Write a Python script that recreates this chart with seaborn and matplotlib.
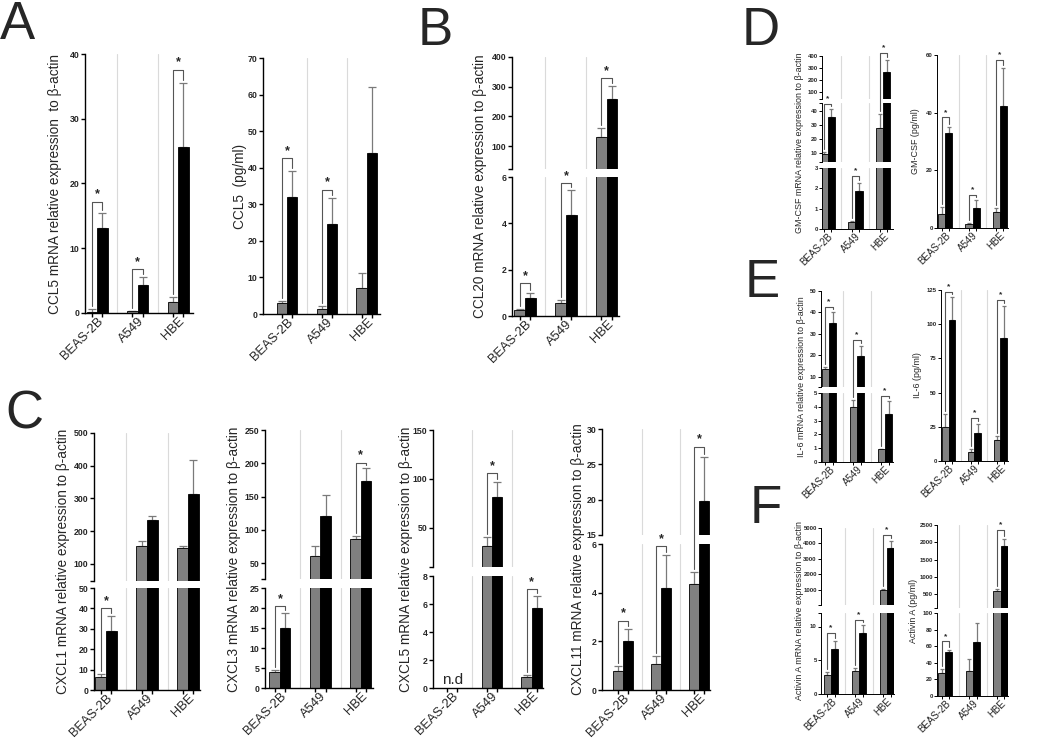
import numpy as np
import pandas as pd
import matplotlib
matplotlib.use("Agg")
import matplotlib.pyplot as plt
import seaborn as sns
from matplotlib.lines import Line2D
from matplotlib.ticker import FixedLocator

# ---------------- data ----------------
cells = ["BEAS-2B", "A549", "HBE"]
groups = ["control", "treated"]

# Panel A – CCL5 mRNA
a1_ctrl = [0.2, 0.25, 1.7]
a1_ctrl_err = [0.4, 0.1, 0.7]
a1_trt = [13.2, 4.4, 25.6]
a1_trt_err = [2.2, 1.1, 9.9]
a1_sig = [17.2, 6.8, 37.6]

# Panel A – CCL5 protein (pg/ml)
a2_ctrl = [3.0, 1.3, 7.0]
a2_ctrl_err = [0.5, 0.9, 4.3]
a2_trt = [32.0, 24.7, 44.0]
a2_trt_err = [7.2, 7.1, 18.0]
a2_sig = [42.7, 34.0, None]

# Panel B – CCL20 mRNA
b_ctrl = [0.25, 0.55, 132.0]
b_ctrl_err = [0.07, 0.15, 28.0]
b_trt = [0.78, 4.35, 258.0]
b_trt_err = [0.22, 1.1, 45.0]
b_sig = [1.42, 5.74, 329.0]

# Panel C – CXCL1 / CXCL3 / CXCL5 / CXCL11 mRNA
c1_ctrl = [6.5, 155.0, 150.0]
c1_ctrl_err = [1.5, 15.0, 5.0]
c1_trt = [29.0, 235.0, 315.0]
c1_trt_err = [7.5, 10.0, 103.0]
c1_sig = [40.0, None, None]

c2_ctrl = [3.9, 60.0, 86.0]
c2_ctrl_err = [0.6, 16.0, 5.0]
c2_trt = [15.1, 121.0, 173.0]
c2_trt_err = [3.6, 31.0, 20.0]
c2_sig = [20.4, None, 201.0]

c3_ctrl = [np.nan, 31.0, 0.8]
c3_ctrl_err = [np.nan, 10.0, 0.1]
c3_trt = [np.nan, 82.0, 5.75]
c3_trt_err = [np.nan, 15.0, 0.85]
c3_sig = [None, 106.0, 7.05]

c4_ctrl = [0.78, 1.05, 4.35]
c4_ctrl_err = [0.22, 0.33, 0.5]
c4_trt = [2.0, 4.2, 19.8]
c4_trt_err = [0.5, 1.35, 6.3]
c4_sig = [2.85, 5.92, 27.5]

# Panel D – GM-CSF
d1_ctrl = [9.0, 0.33, 27.5]
d1_ctrl_err = [1.5, 0.05, 10.5]
d1_trt = [35.5, 1.85, 270.0]
d1_trt_err = [6.0, 0.4, 100.0]
d1_sig = [45.0, 2.6, 423.0]

d2_ctrl = [4.7, 1.3, 5.6]
d2_ctrl_err = [2.6, 0.5, 1.2]
d2_trt = [33.0, 6.8, 42.3]
d2_trt_err = [2.0, 3.0, 13.2]
d2_sig = [38.4, 11.5, 58.3]

# Panel E – IL-6
e1_ctrl = [13.5, 3.95, 0.92]
e1_ctrl_err = [1.0, 0.55, 0.05]
e1_trt = [35.3, 19.8, 3.45]
e1_trt_err = [4.7, 4.5, 1.0]
e1_sig = [42.7, 27.3, 4.8]

e2_ctrl = [25.0, 6.3, 15.5]
e2_ctrl_err = [9.0, 2.2, 2.8]
e2_trt = [103.0, 20.5, 90.0]
e2_trt_err = [17.0, 6.5, 23.0]
e2_sig = [123.8, 31.5, 118.0]

# Panel F – Activin A
f1_ctrl = [2.8, 3.4, 1020.0]
f1_ctrl_err = [0.4, 0.4, 60.0]
f1_trt = [6.6, 9.1, 3700.0]
f1_trt_err = [1.2, 1.1, 450.0]
f1_sig = [9.1, 11.0, 4570.0]

f2_ctrl = [28.0, 30.0, 580.0]
f2_ctrl_err = [5.0, 15.0, 80.0]
f2_trt = [53.0, 65.0, 1880.0]
f2_trt_err = [3.0, 23.0, 210.0]
f2_sig = [65.7, None, 2356.0]

# ---------------- style ----------------
sns.set_theme(style="ticks")
plt.rcParams["font.family"] = ["Liberation Sans", "DejaVu Sans"]

W, H = 1050, 744
fig = plt.figure(figsize=(W / 100, H / 100), dpi=100)

GRAY = "#808080"
BLACK = "#000000"
BAR_W = 0.52
HALF = BAR_W / 4


def px_axes(x0, x1, ytop, ybot):
    return fig.add_axes([x0 / W, 1 - ybot / H, (x1 - x0) / W, (ybot - ytop) / H])


def to_fig(axes_bottom_first, x, y):
    chosen = axes_bottom_first[-1]
    for ax in axes_bottom_first:
        if y <= ax.get_ylim()[1]:
            chosen = ax
            break
    d = chosen.transData.transform((x, y))
    return fig.transFigure.inverted().transform(d)


def fmt(t):
    return str(int(t)) if float(t).is_integer() else str(t)


def visible(vals, lo, is_bottom):
    """Hide values that lie wholly below a raised (broken) segment."""
    vals = np.asarray(vals, dtype=float)
    if is_bottom:
        return vals
    return np.where(vals > lo, vals, np.nan)


def draw_panel(x0, x1, xlim, segs, label, label_x, ctrl, ctrl_err, trt, trt_err,
               sig, small=False, nd=False):
    tick_fs = 4.3 if small else 6.3
    xlab_fs = 7.0 if small else 9.3
    lab_fs = 6.4 if small else 9.8
    lw_sp = 0.7 if small else 1.0
    cap = 1.5 if small else 3
    tlen = 2 if small else 3
    axes = []
    n = len(segs)
    ctrl = np.asarray(ctrl, float)
    trt = np.asarray(trt, float)
    ctrl_err = np.asarray(ctrl_err, float)
    trt_err = np.asarray(trt_err, float)
    ctrl_top = ctrl + ctrl_err
    trt_top = trt + trt_err
    for i, (ytop, ybot, lo, hi, ticks) in enumerate(segs):
        last = (i == n - 1)
        ax = px_axes(x0, x1, ytop, ybot)
        c_vis = visible(ctrl, lo, last)
        t_vis = visible(trt, lo, last)
        df = pd.DataFrame({
            "cell": cells * 2,
            "group": [groups[0]] * 3 + [groups[1]] * 3,
            "value": list(c_vis) + list(t_vis),
        })
        sns.barplot(data=df, x="cell", y="value", hue="group", order=cells,
                    hue_order=groups, palette=[GRAY, BLACK], width=BAR_W,
                    errorbar=None, edgecolor="black", linewidth=0.6,
                    saturation=1, legend=False, ax=ax, zorder=2)
        xs_c = np.arange(3) - HALF
        xs_t = np.arange(3) + HALF
        ax.errorbar(xs_c, c_vis, yerr=[np.zeros(3), ctrl_err], fmt="none",
                    ecolor="#7a7a7a", elinewidth=0.9, capsize=cap, capthick=0.9, zorder=1)
        ax.errorbar(xs_t, t_vis, yerr=[np.zeros(3), trt_err], fmt="none",
                    ecolor="#7a7a7a", elinewidth=0.9, capsize=cap, capthick=0.9, zorder=1)
        for xv in (0.5, 1.5):
            ax.axvline(xv, color="#dadada", lw=0.8, zorder=0)
        ax.set_xlim(*xlim)
        ax.set_ylim(lo, hi)
        ax.set_xlabel("")
        ax.set_ylabel("")
        ax.set_facecolor("none")
        sns.despine(ax=ax, bottom=not last)
        for s in ("left", "bottom"):
            ax.spines[s].set_linewidth(lw_sp)
            ax.spines[s].set_color("black")
        ax.set_yticks(ticks)
        ax.set_yticklabels([fmt(t) for t in ticks], fontsize=tick_fs, fontweight="bold")
        extra = [v for v in (lo, hi) if v not in ticks]
        ax.yaxis.set_minor_locator(FixedLocator(extra))
        ax.tick_params(axis="y", which="both", length=tlen, width=lw_sp, pad=1,
                       color="black")
        if last:
            ax.set_xticks([0, 1, 2])
            ax.set_xticklabels(cells, rotation=45, ha="right", va="top",
                               rotation_mode="anchor", fontsize=xlab_fs)
            ax.tick_params(axis="x", which="major", length=0, pad=1.5)
            ax.xaxis.set_minor_locator(FixedLocator(list(xs_c) + list(xs_t)))
            ax.tick_params(axis="x", which="minor", length=tlen, width=lw_sp,
                           color="black")
            if nd:
                ax.text(0, lo + (hi - lo) * 0.01, "n.d", ha="center", va="bottom",
                        fontsize=11)
        else:
            ax.set_xticks([])
            ax.tick_params(axis="x", bottom=False)
        axes.append(ax)
    axes_bf = axes[::-1]
    ymid = (segs[0][0] + segs[-1][1]) / 2
    fig.text(label_x / W, 1 - ymid / H, label, rotation=90, ha="center",
             va="center", fontsize=lab_fs)
    gap = 3 / H
    for gi, h in enumerate(sig):
        if h is None:
            continue
        xl, xr = gi - HALF, gi + HALF
        pl = to_fig(axes_bf, xl, h)
        pr = to_fig(axes_bf, xr, h)
        lb = to_fig(axes_bf, xl, ctrl_top[gi])[1] + gap
        rb = to_fig(axes_bf, xr, trt_top[gi])[1] + gap
        rb = min(rb, pr[1] - 1.5 / H)
        line = Line2D([pl[0], pl[0], pr[0], pr[0]], [lb, pl[1], pr[1], rb],
                      transform=fig.transFigure, color="#555555", lw=0.8)
        fig.add_artist(line)
        fig.text((pl[0] + pr[0]) / 2, pl[1] + (5 if small else 7) / H, "*",
                 ha="center", va="center", fontsize=6 if small else 9,
                 fontweight="bold")
    return axes


# ---------------- panels ----------------
draw_panel(85, 193, (-0.30, 2.37), [(54, 313, 0, 40, [0, 10, 20, 30, 40])],
           "CCL5 mRNA relative expression  to \u03b2-actin", 55,
           a1_ctrl, a1_ctrl_err, a1_trt, a1_trt_err, a1_sig)
draw_panel(263, 380, (-0.60, 2.33), [(58, 314, 0, 70, list(range(0, 71, 10)))],
           "CCL5  (pg/ml)", 240,
           a2_ctrl, a2_ctrl_err, a2_trt, a2_trt_err, a2_sig)
draw_panel(512, 619, (-0.32, 2.30),
           [(57, 169, 22.5, 400, [100, 200, 300, 400]), (177, 316, 0, 6, [0, 2, 4, 6])],
           "CCL20 mRNA relative expression to \u03b2-actin", 480,
           b_ctrl, b_ctrl_err, b_trt, b_trt_err, b_sig)
draw_panel(94, 200, (-0.29, 2.29),
           [(433, 581, 48, 500, [100, 200, 300, 400, 500]),
            (588, 690, 0, 50, [0, 10, 20, 30, 40, 50])],
           "CXCL1 mRNA relative expression to \u03b2-actin", 63,
           c1_ctrl, c1_ctrl_err, c1_trt, c1_trt_err, c1_sig)
draw_panel(265, 373, (-0.37, 2.30),
           [(430, 579, 26, 250, [50, 100, 150, 200, 250]),
            (588, 688, 0, 25, [0, 5, 10, 15, 20, 25])],
           "CXCL3 mRNA relative expression to \u03b2-actin", 234,
           c2_ctrl, c2_ctrl_err, c2_trt, c2_trt_err, c2_sig)
draw_panel(433, 543, (-0.48, 2.28),
           [(430, 567, 10, 150, [50, 100, 150]), (576, 688, 0, 8, [0, 2, 4, 6, 8])],
           "CXCL5 mRNA relative expression to \u03b2-actin", 406,
           c3_ctrl, c3_ctrl_err, c3_trt, c3_trt_err, c3_sig, nd=True)
draw_panel(602, 710, (-0.55, 2.29),
           [(429, 535, 15, 30, [15, 20, 25, 30]), (544, 690, 0, 6, [0, 2, 4, 6])],
           "CXCL11 mRNA relative expression to \u03b2-actin", 578,
           c4_ctrl, c4_ctrl_err, c4_trt, c4_trt_err, c4_sig)
draw_panel(822, 893, (-0.20, 2.35),
           [(56, 99, 45, 400, [100, 200, 300, 400]),
            (103, 162, 3.5, 45.5, [10, 20, 30, 40]),
            (168, 229, 0, 3, [0, 1, 2, 3])],
           "GM-CSF mRNA relative expression to \u03b2-actin", 799,
           d1_ctrl, d1_ctrl_err, d1_trt, d1_trt_err, d1_sig, small=True)
draw_panel(937, 1008, (-0.30, 2.30), [(55, 228, 0, 60, [0, 20, 40, 60])],
           "GM-CSF (pg/ml)", 915,
           d2_ctrl, d2_ctrl_err, d2_trt, d2_trt_err, d2_sig, small=True)
draw_panel(821, 893, (-0.29, 2.29),
           [(291, 387, 5.3, 50, [10, 20, 30, 40, 50]),
            (393, 462, 0, 5, [0, 1, 2, 3, 4, 5])],
           "IL-6 mRNA relative expression to \u03b2-actin", 801,
           e1_ctrl, e1_ctrl_err, e1_trt, e1_trt_err, e1_sig, small=True)
draw_panel(941, 1008, (-0.29, 2.30), [(290, 461, 0, 125, [0, 25, 50, 75, 100, 125])],
           "IL-6 (pg/ml)", 918,
           e2_ctrl, e2_ctrl_err, e2_trt, e2_trt_err, e2_sig, small=True)
draw_panel(821, 894, (-0.36, 2.25),
           [(528, 605, 30, 5000, [1000, 2000, 3000, 4000, 5000]),
            (613, 694, 0, 12, [0, 5, 10])],
           "Activin A mRNA relative expression to \u03b2-actin", 799,
           f1_ctrl, f1_ctrl_err, f1_trt, f1_trt_err, f1_sig, small=True)
draw_panel(937, 1008, (-0.30, 2.27),
           [(525, 608, 100, 2500, [500, 1000, 1500, 2000, 2500]),
            (613, 696, 0, 100, [0, 20, 40, 60, 80, 100])],
           "Activin A (pg/ml)", 914,
           f2_ctrl, f2_ctrl_err, f2_trt, f2_trt_err, f2_sig, small=True)

# panel letters
for letter, lx, base in [("A", 0, 39), ("B", 418, 45), ("C", 5, 428),
                         ("D", 742, 45), ("E", 745, 297), ("F", 750, 523)]:
    fig.text(lx / W, 1 - base / H, letter, fontsize=38, ha="left", va="baseline")

fig.savefig("out.png", dpi=100)
